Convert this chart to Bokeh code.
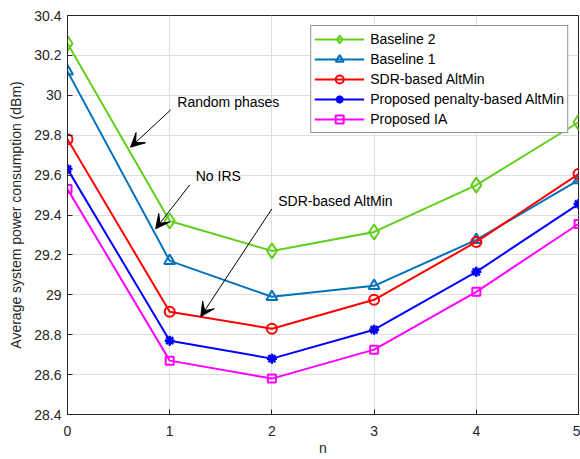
from bokeh.plotting import figure
from bokeh.models import (Range1d, FixedTicker, Arrow, VeeHead, Label, Legend, LegendItem)
from bokeh.embed import file_html
from bokeh.resources import INLINE

n = [0, 1, 2, 3, 4, 5]
baseline2 = [30.26, 29.37, 29.22, 29.315, 29.55, 29.865]
baseline1 = [30.12, 29.17, 28.99, 29.045, 29.275, 29.575]
sdr_altmin = [29.78, 28.915, 28.83, 28.975, 29.265, 29.605]
penalty_altmin = [29.63, 28.77, 28.68, 28.825, 29.115, 29.455]
proposed_ia = [29.53, 28.67, 28.58, 28.725, 29.015, 29.355]

series_names = ["Baseline 2", "Baseline 1", "SDR-based AltMin",
                "Proposed penalty-based AltMin", "Proposed IA"]

y_ticks = [28.4, 28.6, 28.8, 29.0, 29.2, 29.4, 29.6, 29.8, 30.0, 30.2, 30.4]
y_tick_labels = ["28.4", "28.6", "28.8", "29", "29.2", "29.4", "29.6", "29.8", "30", "30.2", "30.4"]
x_ticks = [0, 1, 2, 3, 4, 5]

# annotations: (text, text_x, text_y, arrow start x, y, arrow end x, y)
annot_text = ["Random phases", "No IRS", "SDR-based AltMin"]
annot_tx = [1.075, 1.255, 2.062]
annot_ty = [29.965, 29.595, 29.47]
arrow_x0 = [1.01, 1.196, 2.0]
arrow_y0 = [29.927, 29.551, 29.431]
arrow_x1 = [0.617, 0.863, 1.304]
arrow_y1 = [29.740, 29.331, 28.891]

FONT = "Liberation Sans"
AX = "#262626"

p = figure(width=580, height=459, output_backend="svg", toolbar_location=None,
           x_range=Range1d(0, 5), y_range=Range1d(28.4, 30.4),
           min_border_left=67, min_border_right=2, min_border_top=15, min_border_bottom=45)
p.background_fill_color = "white"
p.border_fill_color = "white"
p.outline_line_color = AX
p.outline_line_width = 1

for ax in (p.xaxis[0], p.yaxis[0]):
    ax.axis_line_color = AX
    ax.major_tick_line_color = AX
    ax.major_tick_in = 5
    ax.major_tick_out = 0
    ax.minor_tick_line_color = None
    ax.major_label_text_font = FONT
    ax.major_label_text_font_size = "14px"
    ax.major_label_text_color = AX
    ax.axis_label_text_font = FONT
    ax.axis_label_text_font_size = "14px"
    ax.axis_label_text_font_style = "normal"
    ax.axis_label_text_color = AX

p.xaxis.ticker = FixedTicker(ticks=x_ticks)
p.yaxis.ticker = FixedTicker(ticks=y_ticks)
p.yaxis.major_label_overrides = {t: l for t, l in zip(y_ticks, y_tick_labels)}
p.xaxis.axis_label = "n"
p.yaxis.axis_label = "Average system power consumption (dBm)"
p.xaxis.major_label_standoff = 11
p.xaxis.axis_label_standoff = 1
p.yaxis.major_label_standoff = 6
p.yaxis.axis_label_standoff = 7

p.xgrid.ticker = FixedTicker(ticks=x_ticks)
p.ygrid.ticker = FixedTicker(ticks=y_ticks)
p.grid.grid_line_color = "#dedede"
p.grid.grid_line_width = 1

colors = ["#5fcf1a", "#0072BD", "#FF0000", "#0000FF", "#FF00FF"]
markers = ["diamond", "triangle", "circle", "asterisk", "square"]
sizes = [15, 11, 10, 10, 8]
data = [baseline2, baseline1, sdr_altmin, penalty_altmin, proposed_ia]

items = []
for name, ys, c, m, s in zip(series_names, data, colors, markers, sizes):
    ln = p.line(n, ys, line_color=c, line_width=2)
    lw = 2.5 if m == "asterisk" else 2
    sc = p.scatter(n, ys, marker=m, size=s, line_color=c, line_width=lw, fill_alpha=0)
    items.append(LegendItem(label=name, renderers=[ln, sc]))

legend = Legend(items=items, location="top_right")
legend.margin = 10
legend.padding = 3
legend.spacing = 0
legend.glyph_width = 50
legend.glyph_height = 20
legend.label_height = 20
legend.label_standoff = 6
legend.label_text_font = FONT
legend.label_text_font_size = "14px"
legend.label_text_color = "black"
legend.border_line_color = AX
legend.border_line_width = 1
legend.background_fill_alpha = 1
p.add_layout(legend)

for t, tx, ty, x0, y0, x1, y1 in zip(annot_text, annot_tx, annot_ty, arrow_x0, arrow_y0, arrow_x1, arrow_y1):
    p.add_layout(Arrow(end=VeeHead(size=14, fill_color="black", line_color="black"),
                       x_start=x0, y_start=y0, x_end=x1, y_end=y1,
                       line_color="black", line_width=1))
    p.add_layout(Label(x=tx, y=ty, text=t, text_font=FONT, text_font_size="14px",
                       text_color="black", text_baseline="middle", text_align="left"))

open("out.html", "w").write(file_html(p, INLINE))
